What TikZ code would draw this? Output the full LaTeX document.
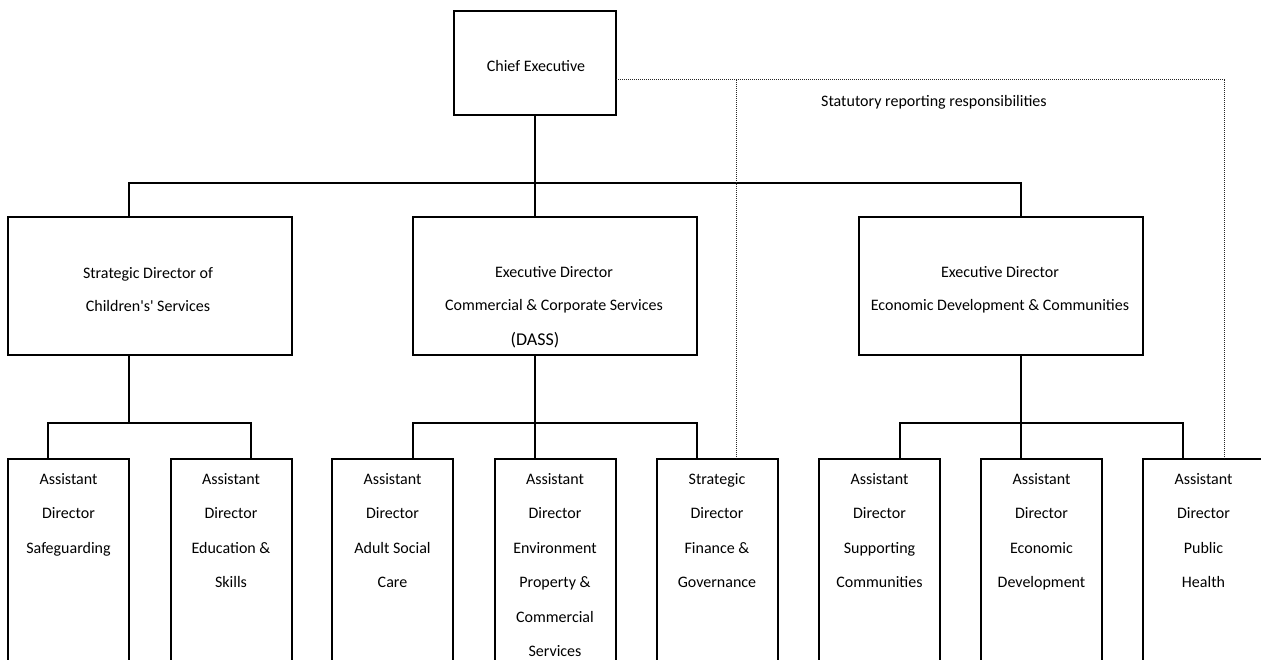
\documentclass[tikz,border=0pt]{standalone}
\usepackage{fontspec}
\setmainfont{Carlito}[Ligatures=TeXOff]
\begin{document}
\begin{tikzpicture}[x=1pt,y=-1pt,
  box/.style={draw, line width=2pt, rectangle, inner sep=0pt},
  conn/.style={line width=2pt},
  stat/.style={line width=1pt, dash pattern=on 1.2pt off 0.8pt, black!85},
  txt/.style={inner sep=0pt, align=center, font=\fontsize{16}{34.5}\selectfont},
  txtb/.style={inner sep=0pt, align=center, font=\fontsize{16}{33}\selectfont}]
\useasboundingbox (0,0) rectangle (1261,660);
\clip (0,0) rectangle (1261,660);
% Level 1
\node[box, minimum width=162pt, minimum height=104pt] (ce) at (535,63) {};
\node[txt, anchor=base] (tce) at (536,72) {Chief Executive};
\node[txt, anchor=base west] (tstat) at (821,107) {Statutory reporting responsibilities};
% Level 2
\node[box, minimum width=284pt, minimum height=138pt] (sd) at (150,286) {};
\node[box, minimum width=284pt, minimum height=138pt] (ed1) at (555,286) {};
\node[box, minimum width=284pt, minimum height=138pt] (ed2) at (1001,286) {};
\node[txtb, anchor=north] (tsd) at (148,267) {Strategic Director of\\Children's' Services};
\node[txtb, anchor=north] (ted1) at (554,266) {Executive Director\\Commercial \& Corporate Services};
\node[inner sep=0pt, anchor=base, font=\fontsize{18}{20}\selectfont] (tdass) at (535,345) {(DASS)};
\node[txtb, anchor=north] (ted2) at (1000,266) {Executive Director\\Economic Development \& Communities};
% Level 3
\foreach \n/\cx in {b1/68.5, b2/231, b3/392.5, b4/555, b5/717, b6/879.5, b7/1041.5, b8/1203.5}{
  \node[box, minimum width=121pt, minimum height=240pt, anchor=north] (\n) at (\cx,458) {};
}
\node[txt, anchor=north] (t1) at (b1.north |- 0,473) {Assistant\\Director\\Safeguarding};
\node[txt, anchor=north] (t2) at (b2.north |- 0,473) {Assistant\\Director\\Education \&\\Skills};
\node[txt, anchor=north] (t3) at (b3.north |- 0,473) {Assistant\\Director\\Adult Social\\Care};
\node[txt, anchor=north] (t4) at (b4.north |- 0,473) {Assistant\\Director\\Environment\\Property \&\\Commercial\\Services};
\node[txt, anchor=north] (t5) at (b5.north |- 0,473) {Strategic\\Director\\Finance \&\\Governance};
\node[txt, anchor=north] (t6) at (b6.north |- 0,473) {Assistant\\Director\\Supporting\\Communities};
\node[txt, anchor=north] (t7) at (b7.north |- 0,473) {Assistant\\Director\\Economic\\Development};
\node[txt, anchor=north] (t8) at (b8.north |- 0,473) {Assistant\\Director\\Public\\Health};
% Junction coordinates
\coordinate (j0) at (535,183);
\coordinate (busL) at (129,183);
\coordinate (busR) at (1021,183);
\coordinate (gL) at (129,423);
\coordinate (gLa) at (48,423);
\coordinate (gLb) at (251,423);
\coordinate (gM) at (535,423);
\coordinate (gMa) at (413,423);
\coordinate (gMb) at (697,423);
\coordinate (gR) at (1021,423);
\coordinate (gRa) at (900,423);
\coordinate (gRb) at (1183,423);
\coordinate (d0) at (616,80);
\coordinate (d1) at (736,80);
\coordinate (d2) at (1224,80);
% Solid connectors
\draw[conn] (ce.south) -- (j0);
\draw[conn] (busL |- sd.north) -- (busL) -- (busR) -- (busR |- ed2.north);
\draw[conn] (j0) -- (j0 |- ed1.north);
\draw[conn] (gL |- sd.south) -- (gL);
\draw[conn] (gLa |- b1.north) -- (gLa) -- (gLb) -- (gLb |- b2.north);
\draw[conn] (gM |- ed1.south) -- (gM |- b4.north);
\draw[conn] (gMa |- b3.north) -- (gMa) -- (gMb) -- (gMb |- b5.north);
\draw[conn] (gR |- ed2.south) -- (gR |- b7.north);
\draw[conn] (gRa |- b6.north) -- (gRa) -- (gRb) -- (gRb |- b8.north);
% Statutory dotted lines
\draw[stat] (d0) -- (d2) -- (d2 |- b8.north);
\draw[stat] (d1) -- (d1 |- b5.north);
\end{tikzpicture}
\end{document}
